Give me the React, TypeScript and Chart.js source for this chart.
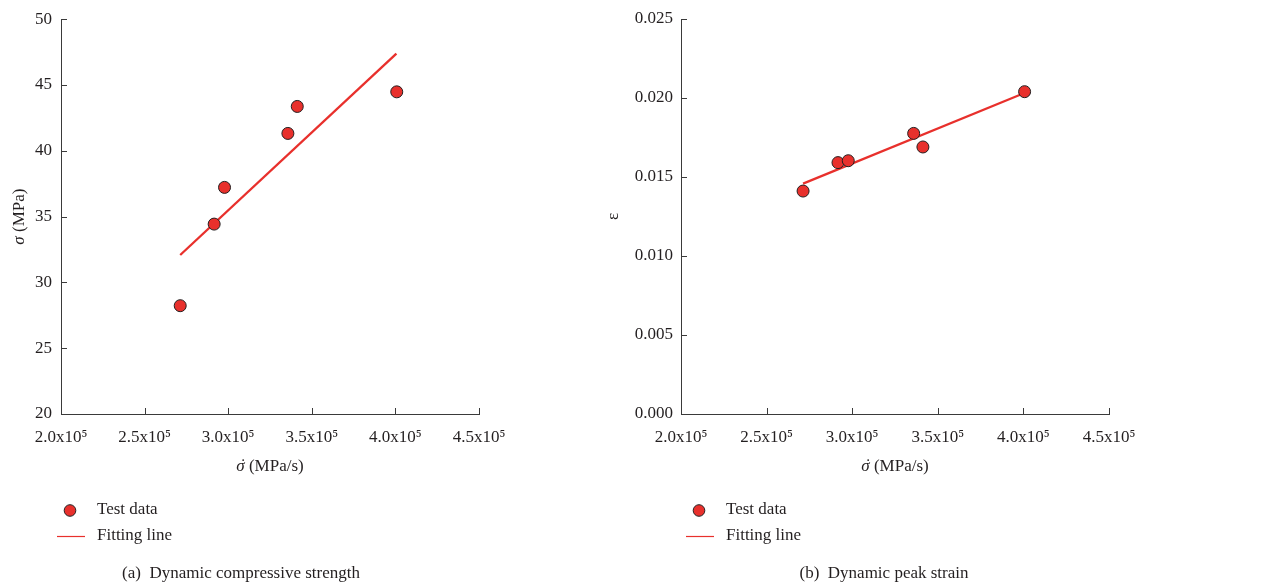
import React, { useEffect, useRef } from 'react';
import { Chart, registerables } from 'chart.js';

Chart.register(...registerables);

// ---- data ----
const xTickValues = [200000, 250000, 300000, 350000, 400000, 450000];

const rateA = [271300, 291600, 297800, 335700, 341300, 400800];
const strengthA = [28.23, 34.43, 37.22, 41.32, 43.37, 44.48];
const fitRateA = [271300, 400600];
const fitStrengthA = [32.08, 47.39];

const rateB = [271300, 291700, 297700, 335900, 341300, 400700];
const strainB = [0.01411, 0.01591, 0.01603, 0.01776, 0.0169, 0.0204];
const fitRateB = [271300, 399200];
const fitStrainB = [0.01458, 0.02025];

const legendLabels = ['Test data', 'Fitting line'];

const FONT = "'Liberation Serif', 'DejaVu Serif', serif";
const TEXT = '#231f20';
const AXIS = '#3a3a3a';
const RED = '#e8302c';

type Part = { text: string; italic?: boolean; dot?: boolean };

function drawParts(ctx: CanvasRenderingContext2D, parts: Part[], cx: number, cy: number, size: number) {
  let total = 0;
  const widths = parts.map((p) => {
    ctx.font = `${p.italic ? 'italic ' : ''}${size}px ${FONT}`;
    const w = ctx.measureText(p.text).width;
    total += w;
    return w;
  });
  let x = cx - total / 2;
  ctx.textBaseline = 'middle';
  ctx.fillStyle = TEXT;
  parts.forEach((p, i) => {
    ctx.font = `${p.italic ? 'italic ' : ''}${size}px ${FONT}`;
    ctx.textAlign = 'left';
    ctx.fillText(p.text, x, cy);
    if (p.dot) {
      ctx.textAlign = 'center';
      ctx.fillText('\u02D9', x + widths[i] / 2 + 1.5, cy - 1);
    }
    x += widths[i];
  });
}

const inwardTicks = {
  id: 'inwardTicks',
  afterDatasetsDraw(chart: any) {
    const { ctx, chartArea, scales } = chart;
    const x = scales.x;
    const y = scales.y;
    ctx.save();
    ctx.strokeStyle = AXIS;
    ctx.lineWidth = 1;
    ctx.beginPath();
    x.ticks.forEach((_t: any, i: number) => {
      const px = Math.round(x.getPixelForTick(i)) + 0.5;
      ctx.moveTo(px, chartArea.bottom);
      ctx.lineTo(px, chartArea.bottom - 6);
    });
    y.ticks.forEach((_t: any, i: number) => {
      const py = Math.round(y.getPixelForTick(i)) + 0.5;
      ctx.moveTo(chartArea.left, py);
      ctx.lineTo(chartArea.left + 6, py);
    });
    ctx.stroke();
    ctx.restore();
  },
};

const decor = {
  id: 'decor',
  afterDraw(chart: any, _args: any, opts: any) {
    const { ctx, chartArea } = chart;
    ctx.save();
    // x title
    drawParts(ctx, opts.xTitle, (chartArea.left + chartArea.right) / 2, 467, 17);
    // y title
    ctx.save();
    ctx.translate(opts.yTitleX, (chartArea.top + chartArea.bottom) / 2);
    ctx.rotate(-Math.PI / 2);
    drawParts(ctx, opts.yTitle, 0, 0, 17);
    ctx.restore();
    // legend
    const ds0 = chart.data.datasets[0];
    const ds1 = chart.data.datasets[1];
    ctx.beginPath();
    ctx.arc(opts.legendX + 13, 510.5, 5.8, 0, Math.PI * 2);
    ctx.fillStyle = ds0.pointBackgroundColor;
    ctx.fill();
    ctx.lineWidth = 1;
    ctx.strokeStyle = ds0.pointBorderColor;
    ctx.stroke();
    ctx.beginPath();
    ctx.moveTo(opts.legendX, 536.5);
    ctx.lineTo(opts.legendX + 28, 536.5);
    ctx.strokeStyle = ds1.borderColor;
    ctx.lineWidth = 1.2;
    ctx.stroke();
    ctx.font = `17px ${FONT}`;
    ctx.fillStyle = TEXT;
    ctx.textAlign = 'left';
    ctx.textBaseline = 'middle';
    ctx.fillText(ds0.label, opts.legendX + 40, 510);
    ctx.fillText(ds1.label, opts.legendX + 40, 536);
    // caption
    ctx.textAlign = 'center';
    ctx.fillText(opts.caption, opts.captionX, 574);
    ctx.restore();
  },
};

function fmtX(v: number) {
  return (v / 100000).toFixed(1) + 'x10\u2075';
}

type Cfg = {
  width: number;
  yAxisWidth: number;
  padRight: number;
  xs: number[];
  ys: number[];
  fitXs: number[];
  fitYs: number[];
  yMin: number;
  yMax: number;
  yStep: number;
  yDigits: number;
  yPad: number;
  yTitle: Part[];
  yTitleX: number;
  legendX: number;
  caption: string;
  captionX: number;
};

function Panel({ cfg }: { cfg: Cfg }) {
  const ref = useRef<HTMLCanvasElement>(null);
  useEffect(() => {
    if (!ref.current) return;
    const chart = new Chart(ref.current, {
      type: 'scatter',
      data: {
        datasets: [
          {
            label: legendLabels[0],
            data: cfg.xs.map((x, i) => ({ x, y: cfg.ys[i] })),
            pointRadius: 6,
            pointBackgroundColor: RED,
            pointBorderColor: TEXT,
            pointBorderWidth: 1,
            showLine: false,
          } as any,
          {
            type: 'line',
            label: legendLabels[1],
            data: cfg.fitXs.map((x, i) => ({ x, y: cfg.fitYs[i] })),
            borderColor: RED,
            borderWidth: 2.3,
            pointRadius: 0,
            fill: false,
          } as any,
        ],
      },
      options: {
        responsive: false,
        animation: false,
        layout: { padding: { left: 0, top: 19, right: cfg.padRight, bottom: 74 } },
        plugins: {
          legend: { display: false },
          tooltip: { enabled: false },
          decor: {
            xTitle: [{ text: '\u03C3', italic: true, dot: true }, { text: ' (MPa/s)' }],
            yTitle: cfg.yTitle,
            yTitleX: cfg.yTitleX,
            legendX: cfg.legendX,
            caption: cfg.caption,
            captionX: cfg.captionX,
          },
        } as any,
        scales: {
          x: {
            type: 'linear',
            min: 200000,
            max: 450000,
            afterBuildTicks: (scale: any) => {
              scale.ticks = xTickValues.map((v) => ({ value: v }));
            },
            afterFit: (scale: any) => {
              scale.height = 100;
            },
            ticks: {
              callback: (v: any) => fmtX(Number(v)),
              font: { family: FONT, size: 17 },
              color: TEXT,
              padding: 13,
              maxRotation: 0,
              autoSkip: false,
            },
            grid: { display: true, drawOnChartArea: false, drawTicks: false },
            border: { display: true, color: AXIS, width: 1 },
          },
          y: {
            type: 'linear',
            min: cfg.yMin,
            max: cfg.yMax,
            afterFit: (scale: any) => {
              scale.width = cfg.yAxisWidth;
            },
            ticks: {
              stepSize: cfg.yStep,
              callback: (v: any) => Number(v).toFixed(cfg.yDigits),
              font: { family: FONT, size: 17 },
              color: TEXT,
              padding: cfg.yPad,
            },
            grid: { display: true, drawOnChartArea: false, drawTicks: false },
            border: { display: true, color: AXIS, width: 1 },
          },
        },
      } as any,
      plugins: [inwardTicks, decor],
    });
    return () => chart.destroy();
  }, [cfg]);
  return <canvas ref={ref} width={cfg.width} height={588} style={{ display: 'block' }} />;
}

const cfgA: Cfg = {
  width: 600,
  yAxisWidth: 61,
  padRight: 121,
  xs: rateA,
  ys: strengthA,
  fitXs: fitRateA,
  fitYs: fitStrengthA,
  yMin: 20,
  yMax: 50,
  yStep: 5,
  yDigits: 0,
  yPad: 9,
  yTitle: [{ text: '\u03C3', italic: true }, { text: ' (MPa)' }],
  yTitleX: 20,
  legendX: 57,
  caption: '(a)  Dynamic compressive strength',
  captionX: 241,
};

const cfgB: Cfg = {
  width: 666,
  yAxisWidth: 81,
  padRight: 157,
  xs: rateB,
  ys: strainB,
  fitXs: fitRateB,
  fitYs: fitStrainB,
  yMin: 0,
  yMax: 0.025,
  yStep: 0.005,
  yDigits: 3,
  yPad: 8,
  yTitle: [{ text: '\u03B5' }],
  yTitleX: 14,
  legendX: 86,
  caption: '(b)  Dynamic peak strain',
  captionX: 284,
};

export default function App() {
  return (
    <div style={{ position: 'absolute', left: 0, top: 0, width: 1266, height: 588, display: 'flex', background: '#fff' }}>
      <Panel cfg={cfgA} />
      <Panel cfg={cfgB} />
    </div>
  );
}
